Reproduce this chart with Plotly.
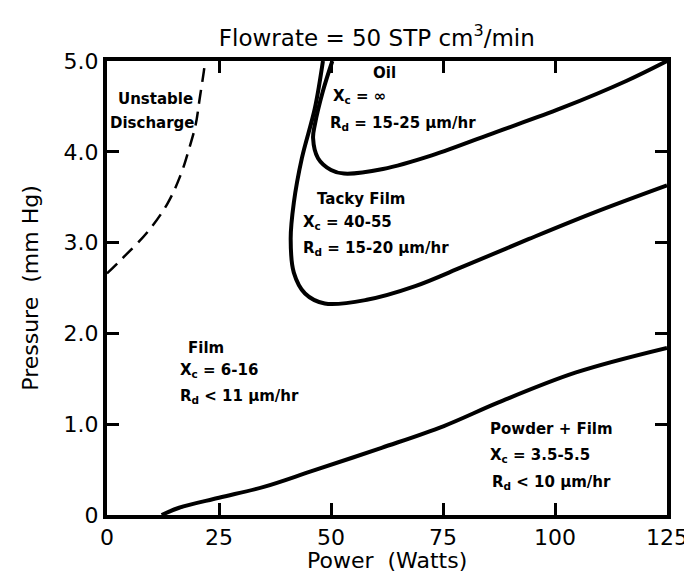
import plotly.graph_objects as go

# Unstable discharge boundary (dashed)
unstable_x = [0.0, 3.5, 9.1, 13.5, 16.4, 18.3, 19.8, 20.7, 21.6, 21.9]
unstable_y = [2.66, 2.83, 3.12, 3.43, 3.74, 4.03, 4.30, 4.59, 4.88, 5.0]

# Tacky film outer boundary
tacky_x = [48.2, 46.4, 43.5, 41.7, 41.0, 41.7, 44.2, 48.6, 58.0, 68.8, 79.7, 94.2, 108.7, 125.0]
tacky_y = [5.0, 4.48, 3.93, 3.44, 3.04, 2.67, 2.44, 2.33, 2.37, 2.52, 2.74, 3.04, 3.33, 3.63]

# Oil region boundary
oil_x = [50.3, 48.2, 46.4, 46.0, 47.1, 50.0, 52.9, 61.6, 72.5, 87.0, 101.4, 115.9, 125.0]
oil_y = [5.0, 4.67, 4.30, 4.15, 3.93, 3.80, 3.76, 3.81, 3.96, 4.22, 4.48, 4.78, 5.0]

# Powder + film boundary
powder_x = [12.2, 16.1, 25.0, 35.0, 45.5, 61.3, 75.2, 87.4, 104.7, 125.0]
powder_y = [0.0, 0.08, 0.19, 0.31, 0.48, 0.74, 0.98, 1.24, 1.57, 1.84]

x_ticks = [0, 25, 50, 75, 100, 125]
x_ticktext = ["0", "25", "50", "75", "100", "125"]
y_ticks = [0, 1, 2, 3, 4, 5]
y_ticktext = ["0", "1.0", "2.0", "3.0", "4.0", "5.0"]

# Region labels: (text, x, y, anchor)
labels = [
    ("Unstable", 10.8, 4.58, "center"),
    ("Discharge", 10.2, 4.32, "center"),
    ("Oil", 62.0, 4.87, "center"),
    ("X<sub>c</sub> = \u221e", 50.0, 4.61, "left"),
    ("R<sub>d</sub> = 15-25 \u03bcm/hr", 49.3, 4.31, "left"),
    ("Tacky Film", 46.4, 3.48, "left"),
    ("X<sub>c</sub> = 40-55", 43.2, 3.22, "left"),
    ("R<sub>d</sub> = 15-20 \u03bcm/hr", 43.2, 2.93, "left"),
    ("Film", 22.1, 1.84, "center"),
    ("X<sub>c</sub> = 6-16", 15.9, 1.59, "left"),
    ("R<sub>d</sub> < 11 \u03bcm/hr", 15.9, 1.31, "left"),
    ("Powder + Film", 85.1, 0.95, "left"),
    ("X<sub>c</sub> = 3.5-5.5", 85.1, 0.65, "left"),
    ("R<sub>d</sub> < 10 \u03bcm/hr", 85.4, 0.36, "left"),
]

FONT = "DejaVu Sans"

fig = go.Figure()
fig.add_trace(go.Scatter(x=unstable_x, y=unstable_y, mode="lines", line_shape="spline",
                         line=dict(color="black", width=2.5, dash="14px,8px"), showlegend=False))
for xs, ys in [(tacky_x, tacky_y), (oil_x, oil_y), (powder_x, powder_y)]:
    fig.add_trace(go.Scatter(x=xs, y=ys, mode="lines", line_shape="spline",
                             line=dict(color="black", width=4), showlegend=False))

for text, x, y, anc in labels:
    fig.add_annotation(x=x, y=y, text="<b>" + text + "</b>", showarrow=False, xanchor=anc, yanchor="middle",
                       font=dict(family=FONT, size=15, color="black"))

# Axis titles
fig.add_annotation(xref="paper", yref="paper", x=0.5, y=-0.1, text="Power  (Watts)",
                   showarrow=False, xanchor="center", yanchor="middle", borderpad=0,
                   font=dict(family=FONT, size=22, color="black"))
fig.add_annotation(xref="paper", yref="paper", x=-0.138, y=0.5, text="Pressure  (mm Hg)",
                   showarrow=False, xanchor="center", yanchor="middle", textangle=-90,
                   font=dict(family=FONT, size=22, color="black"))

fig.update_layout(
    width=692, height=574,
    margin=dict(l=99, r=28, t=53, b=67),
    plot_bgcolor="white", paper_bgcolor="white",
    title=dict(text="Flowrate = 50 STP cm<sup>3</sup>/min", x=0.533, xref="container",
               y=1 - 30 / 574, yref="container", xanchor="center", yanchor="middle",
               font=dict(family=FONT, size=23, color="black")),
    xaxis=dict(range=[0, 125], tickvals=x_ticks, ticktext=x_ticktext, showgrid=False, zeroline=False,
               showline=True, linecolor="black", linewidth=4, mirror="ticks",
               ticks="inside", ticklen=12, tickwidth=3, tickcolor="black",
               tickfont=dict(family=FONT, size=22, color="black")),
    yaxis=dict(range=[0, 5], tickvals=y_ticks, ticktext=y_ticktext, showgrid=False, zeroline=False,
               showline=True, linecolor="black", linewidth=4, mirror="ticks",
               ticks="inside", ticklen=12, tickwidth=3, tickcolor="black",
               tickfont=dict(family=FONT, size=22, color="black")),
)

fig.write_html("out.html")
